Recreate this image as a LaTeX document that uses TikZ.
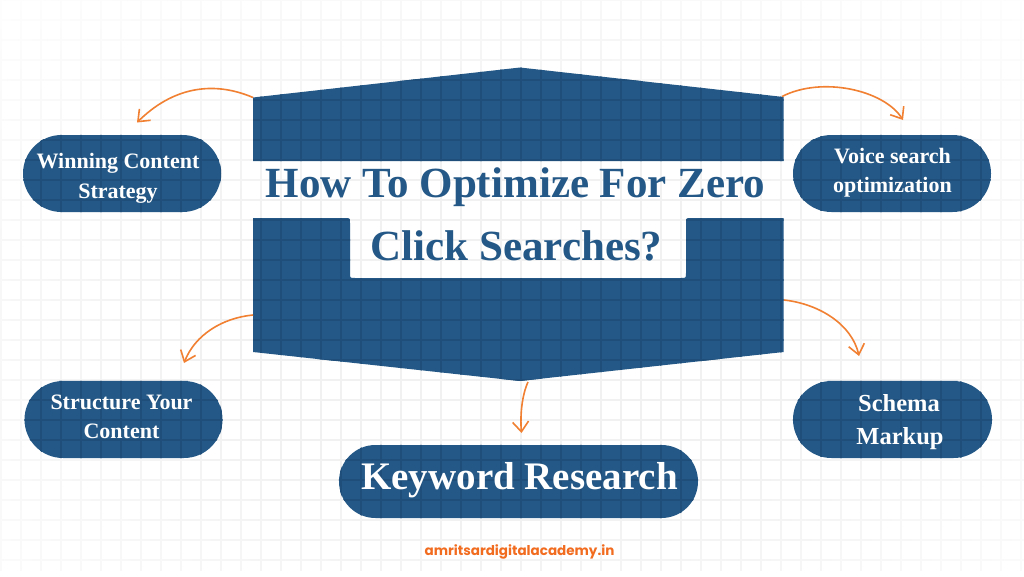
\documentclass[tikz,border=0pt]{standalone}
\usepackage{fontspec}
\setmainfont{Liberation Serif}
\newfontfamily\footfont{Poppins}
\usetikzlibrary{arrows.meta}
\definecolor{mainblue}{RGB}{36,88,134}
\definecolor{gridblue}{RGB}{30,78,121}
\definecolor{arroworange}{RGB}{241,128,50}
\definecolor{footorange}{RGB}{242,108,32}
\newcommand\darkgridlines{%
  \foreach \i in {0,...,51}{\draw[darkline] (20*\i+1,0) -- (20*\i+1,576);}%
  \foreach \j in {0,...,28}{\draw[darkline] (0,20*\j) -- (1024,20*\j);}%
}
\newcommand\toppiece{(253,97.5) -- (520,67.5) -- (783.5,97) -- (783.5,161) -- (253,161) -- cycle}
\newcommand\bottompiece{(253,218) -- (345,218) .. controls (350,218) .. (350,223) -- (350,273) .. controls (350,278) .. (355,278) -- (681,278) .. controls (686,278) .. (686,273) -- (686,223) .. controls (686,218) .. (691,218) -- (783.5,218) -- (783.5,352) -- (520,381) -- (253,352) -- cycle}
\begin{document}
\begin{tikzpicture}[x=1pt,y=-1pt,
  darkline/.style={line width=2pt, gridblue},
  pill/.style={fill=mainblue, inner sep=0pt, minimum width=198pt, minimum height=77pt, rounded corners=38.5pt},
  pilltext/.style={text=white, font=\fontsize{22}{22}\selectfont\bfseries, inner sep=0pt, anchor=base},
  titletext/.style={text=mainblue, font=\fontsize{43}{43}\selectfont\bfseries, inner sep=0pt, anchor=base},
  conn/.style={arroworange, line width=1.6pt, -{Straight Barb[length=10pt,width=16pt]}},
  ]
\useasboundingbox (0,0) rectangle (1024,576);
\fill[white] (0,0) rectangle (1024,576);
% faded background grid
\foreach \i in {0,...,51}{
  \foreach \j in {0,...,28}{
    \pgfmathsetmacro\gx{20*\i+1}
    \pgfmathsetmacro\gy{20*\j}
    \pgfmathsetmacro\gf{max(0,min(1,1.6-1.1*sqrt(((\gx-512)/560)^2+((\gy-330)/330)^2)))*5.5}
    \draw[line width=2pt, black!\gf] (\gx,\gy-10.5) -- (\gx,\gy+10.5);
    \draw[line width=2pt, black!\gf] (\gx-10.5,\gy) -- (\gx+10.5,\gy);
  }
}
% central shape
\fill[mainblue] \toppiece;
\fill[mainblue] \bottompiece;
\begin{scope}\clip \toppiece; \darkgridlines \end{scope}
\begin{scope}\clip \bottompiece; \darkgridlines \end{scope}
% pills
\node[pill] (win) at (122,173.5) {};
\node[pill] (voice) at (892,173.5) {};
\node[pill] (struct) at (123.5,419.5) {};
\node[pill, minimum width=199pt] (schema) at (892.5,419.5) {};
\node[pill, minimum width=359pt, minimum height=73pt, rounded corners=36.5pt] (kw) at (518.5,481.5) {};
\foreach \p in {win,voice,struct,schema}{
  \begin{scope}\clip[rounded corners=38.5pt] (\p.south west) rectangle (\p.north east); \darkgridlines \end{scope}
}
\begin{scope}\clip[rounded corners=36.5pt] (kw.south west) rectangle (kw.north east); \darkgridlines \end{scope}
% texts
\node[titletext] (title1) at (515.5,197) {How To Optimize For Zero};
\node[titletext] (title2) at (516.5,260) {Click Searches?};
\node[pilltext] (win1) at (118,168) {Winning Content};
\node[pilltext] (win2) at (118,198) {Strategy};
\node[pilltext] (voice1) at (892.5,163) {Voice search};
\node[pilltext] (voice2) at (892.5,192) {optimization};
\node[pilltext] (struct1) at (121.5,409) {Structure Your};
\node[pilltext] (struct2) at (121.5,438) {Content};
\node[pilltext, font=\fontsize{24.5}{24.5}\selectfont\bfseries] (schema1) at (899,411) {Schema};
\node[pilltext, font=\fontsize{24.5}{24.5}\selectfont\bfseries] (schema2) at (900,444) {Markup};
\node[pilltext, font=\fontsize{39}{39}\selectfont\bfseries] (kw1) at (519.5,489) {Keyword Research};
\node[anchor=base, inner sep=0pt, text=footorange, font=\footfont\bfseries\fontsize{13.5}{13.5}\selectfont] (site) at (519.5,555) {amritsardigitalacademy.in};
% connectors
\coordinate (a1s) at (253,97.5);
\coordinate (a1e) at (137,122.5);
\coordinate (a2s) at (782,96.5);
\coordinate (a2e) at (903,120);
\coordinate (a3s) at (253,315);
\coordinate (a3e) at (184,363);
\coordinate (a4s) at (784,300);
\coordinate (a4e) at (859,356);
\coordinate (a5s) at (528,382);
\coordinate (a5e) at (521.5,433);
\draw[conn] (a1s) .. controls (212,80) and (172,88) .. (a1e);
\draw[conn] (a2s) .. controls (822,76) and (884,90) .. (a2e);
\draw[conn] (a3s) .. controls (222,318) and (195,335) .. (a3e);
\draw[conn] (a4s) .. controls (820,304) and (852,325) .. (a4e);
\draw[conn] (a5s) .. controls (522,395) and (520,415) .. (a5e);
\end{tikzpicture}
\end{document}
